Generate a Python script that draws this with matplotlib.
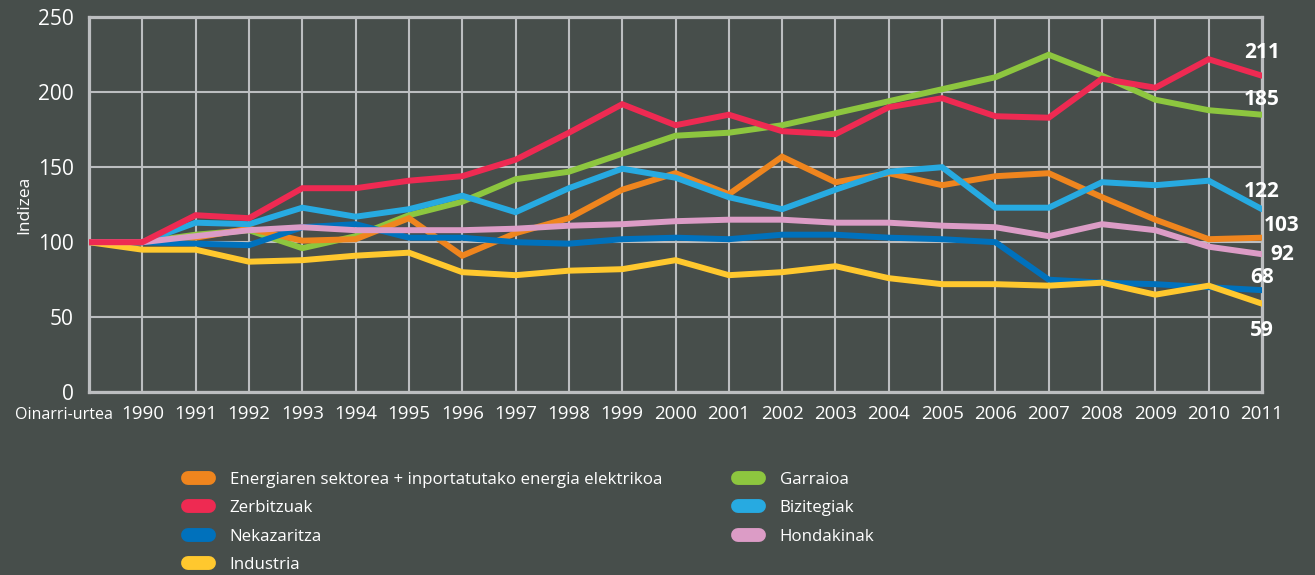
import matplotlib
matplotlib.use('Agg')
import matplotlib.pyplot as plt
from matplotlib.lines import Line2D

plt.rcParams['font.family'] = ['Open Sans', 'DejaVu Sans']

# categories
categories = ['Oinarri-urtea', '1990', '1991', '1992', '1993', '1994', '1995', '1996',
              '1997', '1998', '1999', '2000', '2001', '2002', '2003', '2004', '2005',
              '2006', '2007', '2008', '2009', '2010', '2011']

# series (index, base year = 100)
energia = [100, 100, 103, 109, 101, 102, 116, 91, 106, 116, 135, 146, 132, 157, 140,
           146, 138, 144, 146, 130, 115, 102, 103]
zerbitzuak = [100, 100, 118, 116, 136, 136, 141, 144, 155, 173, 192, 178, 185, 174, 172,
              190, 196, 184, 183, 209, 203, 222, 211]
nekazaritza = [100, 100, 99, 98, 110, 112, 103, 103, 100, 99, 102, 103, 102, 105, 105,
               103, 102, 100, 75, 73, 72, 70, 68]
industria = [100, 95, 95, 87, 88, 91, 93, 80, 78, 81, 82, 88, 78, 80, 84,
             76, 72, 72, 71, 73, 65, 71, 59]
garraioa = [100, 100, 105, 108, 96, 104, 118, 127, 142, 147, 159, 171, 173, 178, 186,
            194, 202, 210, 225, 211, 195, 188, 185]
bizitegiak = [100, 100, 113, 112, 123, 117, 122, 131, 120, 136, 149, 143, 130, 122, 135,
              147, 150, 123, 123, 140, 138, 141, 122]
hondakinak = [100, 100, 104, 108, 110, 108, 108, 108, 109, 111, 112, 114, 115, 115, 113,
              113, 111, 110, 104, 112, 108, 97, 92]

names = ['Energiaren sektorea + inportatutako energia elektrikoa', 'Zerbitzuak',
         'Nekazaritza', 'Industria', 'Garraioa', 'Bizitegiak', 'Hondakinak']

BG = '#474e4b'
GRID = '#bcbec0'
colors = {'energia': '#ef851e', 'zerbitzuak': '#ee2a52', 'nekazaritza': '#0071bc',
          'industria': '#ffc82e', 'garraioa': '#8dc63f', 'bizitegiak': '#27aae1',
          'hondakinak': '#dc9cc6'}

fig = plt.figure(figsize=(13.15, 5.75), dpi=100, facecolor=BG)
ax = fig.add_axes([0.0677, 0.318, 0.892, 0.652])
ax.set_facecolor(BG)

x = list(range(len(categories)))
# drawing order so overlaps look like the original
series = [('garraioa', garraioa), ('energia', energia), ('bizitegiak', bizitegiak),
          ('nekazaritza', nekazaritza), ('industria', industria),
          ('hondakinak', hondakinak), ('zerbitzuak', zerbitzuak)]
for key, vals in series:
    ax.plot(x, vals, color=colors[key], linewidth=4.3, solid_capstyle='round',
            solid_joinstyle='miter', zorder=3)

ax.set_xlim(0, len(categories) - 1)
ax.set_ylim(0, 250)
ax.set_yticks([0, 50, 100, 150, 200, 250])
ax.set_xticks(x[1:])
ax.set_xticklabels(categories[1:], fontsize=13.5, color='white')
ax.tick_params(axis='y', labelsize=15, colors='white', length=0, pad=11)
ax.tick_params(axis='x', length=0, pad=9)
ax.text(-0.47, -0.06, categories[0], transform=ax.get_xaxis_transform(),
        ha='center', va='center', fontsize=11.5, color='white')
ax.set_ylabel('Indizea', color='white', fontsize=12.5, labelpad=4)

ax.grid(True, color=GRID, linewidth=1.5, zorder=1)
ax.set_axisbelow(True)
for s in ax.spines.values():
    s.set_color(GRID)
    s.set_linewidth(2.3)

# end value labels
end_vals = [('zerbitzuak', zerbitzuak, 0, 17, 'center'),
            ('garraioa', garraioa, 0, 11, 'center'),
            ('bizitegiak', bizitegiak, 0, 13, 'center'),
            ('energia', energia, 1, 9, 'left'),
            ('hondakinak', hondakinak, 6, 0, 'left'),
            ('nekazaritza', nekazaritza, 0, 9, 'center'),
            ('industria', industria, 0, -19, 'center')]
for key, vals, dx, dy, ha in end_vals:
    ax.annotate(str(vals[-1]), (x[-1], vals[-1]), xytext=(dx, dy),
                textcoords='offset points', ha=ha, va='center', color='white',
                fontsize=15, fontweight='bold', annotation_clip=False, zorder=5)

handles = [Line2D([], [], color=colors[k], linewidth=10, solid_capstyle='round')
           for k in ['energia', 'zerbitzuak', 'nekazaritza', 'industria',
                     'garraioa', 'bizitegiak', 'hondakinak']]
leg = fig.legend(handles, names, ncol=2, loc='upper left', bbox_to_anchor=(0.143, 0.18),
                 frameon=False, fontsize=12.2, labelcolor='white', handlelength=1.25,
                 handletextpad=1.2, columnspacing=4.5, labelspacing=0.74,
                 borderpad=0, borderaxespad=0)

fig.savefig('out.png', dpi=100, facecolor=BG)
